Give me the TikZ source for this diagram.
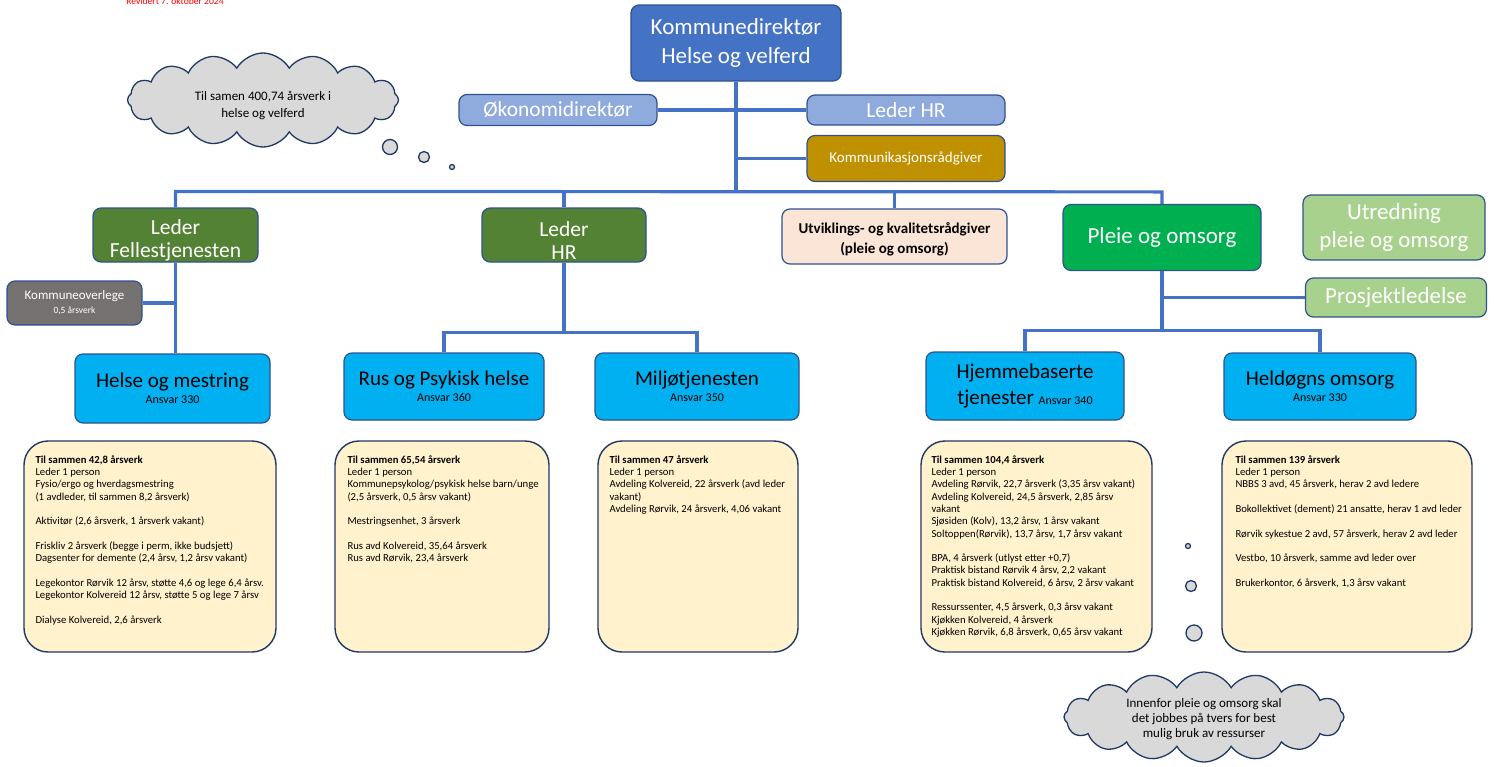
\documentclass[tikz,border=0pt]{standalone}
\usepackage{fontspec}
\setmainfont{Carlito}
\usetikzlibrary{positioning,shapes.symbols}

\definecolor{dirblue}{HTML}{4472C4}
\definecolor{edgeblue}{HTML}{2F528F}
\definecolor{paleblue}{HTML}{8FAADC}
\definecolor{gold}{HTML}{BF9000}
\definecolor{leafgreen}{HTML}{548235}
\definecolor{peach}{HTML}{FBE5D6}
\definecolor{pogreen}{HTML}{00B050}
\definecolor{softgreen}{HTML}{A9D18E}
\definecolor{stone}{HTML}{767171}
\definecolor{sky}{HTML}{00B0F0}
\definecolor{cream}{HTML}{FFF2CC}
\definecolor{navy}{HTML}{203864}
\definecolor{mist}{HTML}{D9D9D9}
\newcommand{\sizeit}[2]{\fontsize{#1}{#2}\selectfont}

\begin{document}
\begin{tikzpicture}[x=1pt,y=-1pt]
\tikzstyle{box node}=[rectangle,rounded corners=8pt,draw=edgeblue,line width=1.2pt,align=center,inner sep=0pt]
\tikzstyle{link}=[draw=dirblue,line width=3.2pt]
\tikzset{
	head node/.style={box node,fill=dirblue,text=white},
	staff node/.style={box node,fill=paleblue,text=white},
	leader node/.style={box node,fill=leafgreen,text=white},
	unit node/.style={box node,fill=sky,text=black,font=\sizeit{21}{24}},
	soft node/.style={box node,fill=softgreen,text=white,font=\sizeit{23}{28}},
	list node/.style={rectangle,rounded corners=24pt,draw=navy,line width=1.4pt,fill=cream,inner sep=0pt},
	list text/.style={align=left,inner sep=0pt,font=\sizeit{10.7}{12.3}},
	cloud node/.style={cloud,cloud puffs=16,cloud puff arc=120,cloud ignores aspect,draw=navy,line width=1.3pt,fill=mist,align=center,inner sep=0pt},
	bubble/.style={circle,draw=navy,line width=1.3pt,fill=mist,inner sep=0pt}
}
\useasboundingbox (0,0) rectangle (1494,766);

\node[text=red,font=\sizeit{9.6}{11},anchor=base] (rev) at (175,4.5) {Revidert 7. oktober 2024};

% top of the chart
\node[head node,minimum width=210pt,minimum height=76pt,font=\sizeit{23}{29}] (dir) at (736,43) {Kommunedirektør\\Helse og velferd};
\node[staff node,minimum width=198pt,minimum height=31pt,font=\sizeit{21.5}{24}] (oko) at (558,110) {Økonomidirektør};
\node[staff node,minimum width=198pt,minimum height=30pt,font=\sizeit{21.5}{24}] (hrtop) at (906,110) {Leder HR};
\node[box node,fill=gold,text=white,minimum width=198pt,minimum height=46pt,font=\sizeit{15}{18}] (komm) at (906,158.5) {Kommunikasjonsrådgiver};

% second level
\node[leader node,minimum width=165pt,minimum height=54pt,font=\sizeit{21.5}{23}] (fell) at (175.5,235) {\rule{0pt}{25pt}Leder\\Fellestjenesten};
\node[leader node,minimum width=164pt,minimum height=54pt,font=\sizeit{21.5}{23}] (lhr) at (564,235) {\rule{0pt}{25pt}Leder\\HR};
\node[box node,fill=peach,text=black,minimum width=225pt,minimum height=55pt,font=\sizeit{15}{20}\bfseries] (utv) at (894.5,236.5) {\rule{0pt}{16pt}Utviklings- og kvalitetsrådgiver\\(pleie og omsorg)};
\node[box node,fill=pogreen,text=white,minimum width=198pt,minimum height=66pt,font=\sizeit{23}{26}] (po) at (1162,237.5) {Pleie og omsorg};
\node[soft node,minimum width=182pt,minimum height=65pt] (utred) at (1394,227.5) {Utredning\\pleie og omsorg};
\node[soft node,minimum width=181pt,minimum height=39pt] (prosj) at (1396,297.5) {Prosjektledelse};
\node[box node,fill=stone,text=white,minimum width=135pt,minimum height=44pt,font=\sizeit{13}{15}] (overlege) at (74.5,303) {Kommuneoverlege\\[-1pt]{\sizeit{9.5}{11}0,5 årsverk}};

% units
\node[unit node,minimum width=195pt,minimum height=69pt] (hm) at (172.5,388.5) {Helse og mestring\\[-8pt]{\sizeit{12}{14}Ansvar 330}};
\node[unit node,minimum width=200pt,minimum height=67pt] (rus) at (444,386.5) {Rus og Psykisk helse\\[-8pt]{\sizeit{12}{14}Ansvar 360}};
\node[unit node,minimum width=204pt,minimum height=67pt] (milj) at (697,386.5) {Miljøtjenesten\\[-8pt]{\sizeit{12}{14}Ansvar 350}};
\node[unit node,minimum width=198pt,minimum height=68pt,font=\sizeit{21}{26}] (hjem) at (1025,386) {Hjemmebaserte\\tjenester {\sizeit{12}{14}Ansvar 340}};
\node[unit node,minimum width=192pt,minimum height=67pt] (held) at (1320,386.5) {Heldøgns omsorg\\[-8pt]{\sizeit{12}{14}Ansvar 330}};

% lists
\node[list node,minimum width=252pt,minimum height=211pt] (hmlist) at (150,546.5) {};
\node[list node,minimum width=214pt,minimum height=211pt] (ruslist) at (442,546.5) {};
\node[list node,minimum width=200pt,minimum height=211pt] (miljlist) at (698,546.5) {};
\node[list node,minimum width=231pt,minimum height=211pt] (hjemlist) at (1036.5,546.5) {};
\node[list node,minimum width=250pt,minimum height=211pt] (heldlist) at (1347,546.5) {};

\node[list text,below right=15pt and 12pt of hmlist.north west] (hmtext) {\textbf{Til sammen 42,8 årsverk}\\Leder 1 person\\Fysio/ergo og hverdagsmestring\\(1 avdleder, til sammen 8,2 årsverk)\\[12.3pt]Aktivitør (2,6 årsverk, 1 årsverk vakant)\\[12.3pt]Friskliv 2 årsverk (begge i perm, ikke budsjett)\\Dagsenter for demente (2,4 årsv, 1,2 årsv vakant)\\[12.3pt]Legekontor Rørvik 12 årsv, støtte 4,6 og lege 6,4 årsv.\\Legekontor Kolvereid 12 årsv, støtte 5 og lege 7 årsv\\[12.3pt]Dialyse Kolvereid, 2,6 årsverk};
\node[list text,below right=15pt and 13pt of ruslist.north west] (rustext) {\textbf{Til sammen 65,54 årsverk}\\Leder 1 person\\Kommunepsykolog/psykisk helse barn/unge\\(2,5 årsverk, 0,5 årsv vakant)\\[12.3pt]Mestringsenhet, 3 årsverk\\[12.3pt]Rus avd Kolvereid, 35,64 årsverk\\Rus avd Rørvik, 23,4 årsverk};
\node[list text,below right=15pt and 12pt of miljlist.north west] (miljtext) {\textbf{Til sammen 47 årsverk}\\Leder 1 person\\Avdeling Kolvereid, 22 årsverk (avd leder\\vakant)\\Avdeling Rørvik, 24 årsverk, 4,06 vakant};
\node[list text,below right=15pt and 11pt of hjemlist.north west] (hjemtext) {\textbf{Til sammen 104,4 årsverk}\\Leder 1 person\\Avdeling Rørvik, 22,7 årsverk (3,35 årsv vakant)\\Avdeling Kolvereid, 24,5 årsverk, 2,85 årsv\\vakant\\Sjøsiden (Kolv), 13,2 årsv, 1 årsv vakant\\Soltoppen(Rørvik), 13,7 årsv, 1,7 årsv vakant\\[12.3pt]BPA, 4 årsverk (utlyst etter +0,7)\\Praktisk bistand Rørvik 4 årsv, 2,2 vakant\\Praktisk bistand Kolvereid, 6 årsv, 2 årsv vakant\\[12.3pt]Ressurssenter, 4,5 årsverk, 0,3 årsv vakant\\Kjøkken Kolvereid, 4 årsverk\\Kjøkken Rørvik, 6,8 årsverk, 0,65 årsv vakant};
\node[list text,below right=15pt and 14pt of heldlist.north west] (heldtext) {\textbf{Til sammen 139 årsverk}\\Leder 1 person\\NBBS 3 avd, 45 årsverk, herav 2 avd ledere\\[12.3pt]Bokollektivet (dement) 21 ansatte, herav 1 avd leder\\[12.3pt]Rørvik sykestue 2 avd, 57 årsverk, herav 2 avd leder\\[12.3pt]Vestbo, 10 årsverk, samme avd leder over\\[12.3pt]Brukerkontor, 6 årsverk, 1,3 årsv vakant};

% clouds
\node[cloud node,minimum width=271pt,minimum height=94pt,font=\sizeit{13}{16.5}] (total) at (263,100) {\rule{0pt}{20pt}Til samen 400,74 årsverk i\\helse og velferd};
\node[bubble,minimum size=15pt] (tb1) at (390,147) {};
\node[bubble,minimum size=11pt] (tb2) at (424,157) {};
\node[bubble,minimum size=5pt] (tb3) at (452,167) {};
\node[cloud node,minimum width=280pt,minimum height=90pt,font=\sizeit{13}{15}] (tvers) at (1204,717) {\rule{0pt}{13pt}Innenfor pleie og omsorg skal\\det jobbes på tvers for best\\mulig bruk av ressurser};
\node[bubble,minimum size=5pt] (pb1) at (1188,546) {};
\node[bubble,minimum size=11pt] (pb2) at (1191,586) {};
\node[bubble,minimum size=16pt] (pb3) at (1194,633) {};

% connectors
\path (fell.north) ++(0,-16) coordinate (busL);
\path (po.north) ++(0,-12) coordinate (busR);
\path (lhr.south) ++(0,70) coordinate (hrbus);
\path (po.south) ++(0,59) coordinate (pobus);
\draw[link] (fell.north) -- (busL) -- (busR) -- (po.north);
\draw[link] (dir.south) -- (dir.south |- busL);
\draw[link] (oko.east) -- (hrtop.west);
\draw[link] (dir.south |- komm.west) -- (komm.west);
\draw[link] (lhr.north |- busL) -- (lhr.north);
\draw[link] (utv.north |- busL) -- (utv.north);
\draw[link] (fell.south) -- (fell.south |- hm.north);
\draw[link] (overlege.east) -- (overlege.east -| fell.south);
\draw[link] (lhr.south) -- (hrbus);
\draw[link] (rus.north) |- (hrbus) -| (milj.north);
\draw[link] (po.south) -- (pobus);
\draw[link] (po.south |- prosj.west) -- (prosj.west);
\draw[link] (hjem.north) |- (pobus) -| (held.north);
\end{tikzpicture}
\end{document}
